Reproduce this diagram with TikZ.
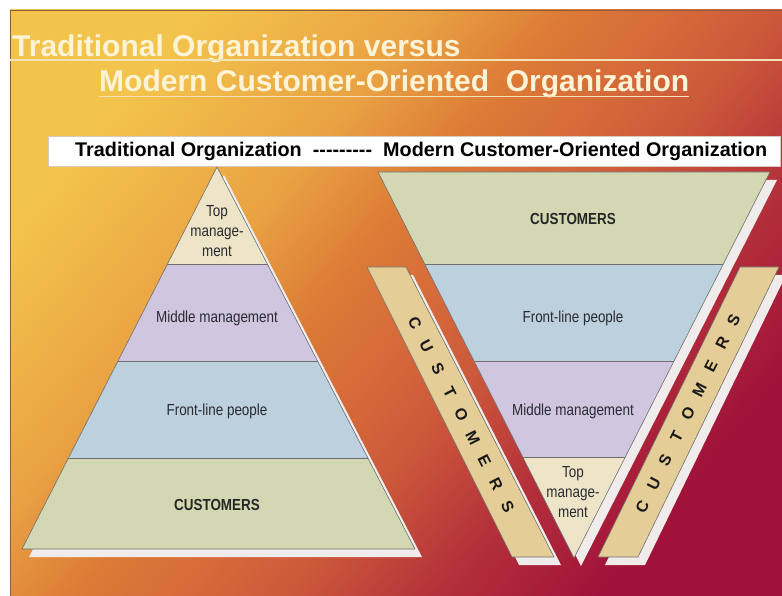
\documentclass[tikz,border=0pt]{standalone}
\usepackage{fontspec}
\newfontfamily\basefont{Liberation Sans}
\newfontfamily\condfont[FakeStretch=0.84]{Liberation Sans}
\usetikzlibrary{calc}

% palette
\definecolor{bgA}{HTML}{F3C44C}
\definecolor{bgB}{HTML}{E9A243}
\definecolor{bgC}{HTML}{DC7A36}
\definecolor{bgD}{HTML}{D66A3A}
\definecolor{bgE}{HTML}{CB573A}
\definecolor{bgF}{HTML}{B4303A}
\definecolor{bgG}{HTML}{A0123A}
\definecolor{titlec}{HTML}{FDF3D6}
\definecolor{ulinec}{HTML}{F3E2B8}
\definecolor{panelline}{HTML}{8C5A3C}
\definecolor{boxedge}{HTML}{D8C8C0}
\definecolor{topc}{HTML}{EEE5C8}
\definecolor{midc}{HTML}{D0C6E0}
\definecolor{frontc}{HTML}{BCD0DD}
\definecolor{custc}{HTML}{D3D8B3}
\definecolor{barc}{HTML}{E5CD97}
\definecolor{shadowc}{HTML}{F0ECEC}
\definecolor{edgegray}{HTML}{6E6E6E}
\definecolor{labtext}{HTML}{2A2A32}

\pgfdeclarehorizontalshading{panelshade}{100bp}{%
  color(0bp)=(bgA); color(25bp)=(bgA); color(38bp)=(bgB); color(46bp)=(bgC);
  color(52bp)=(bgD); color(58bp)=(bgE); color(66bp)=(bgF); color(75bp)=(bgG);
  color(100bp)=(bgG)}

\begin{document}
\begin{tikzpicture}[x=1pt,y=1pt,
  title/.style={anchor=base west, inner sep=0pt, text=titlec,
    font=\basefont\bfseries\fontsize{30}{36}\selectfont},
  uline/.style={draw=ulinec, line width=1.8pt},
  divider/.style={draw=edgegray, line width=0.6pt},
  outline/.style={draw=edgegray, line width=0.6pt, line join=round},
  lab/.style={inner sep=0pt, text=labtext, align=center,
    font=\condfont\fontsize{16}{20}\selectfont},
  labbold/.style={inner sep=0pt, text=black!85, align=center,
    font=\condfont\bfseries\fontsize{16}{20}\selectfont},
  barletter/.style={inner sep=0pt, text=black!90,
    font=\basefont\bfseries\fontsize{16}{16}\selectfont},
]
\clip (0,0) rectangle (782,-596);
\fill[white] (0,0) rectangle (782,-596);

% shaded panel
\shade[shading=panelshade, shading angle=-40] (10,-10) rectangle (782,-596);
\draw[panelline, line width=0.8pt] (782,-10) -- (10,-10) -- (10,-596);

% headings
\node[title] (t1) at (12,-57) {Traditional Organization versus};
\node[title] (t2) at (99,-92) {Modern Customer-Oriented\ \ Organization};
\coordinate (u1a) at (10,-60);
\coordinate (u1b) at (782,-60);
\draw[uline] (u1a) -- (u1b);
\draw[uline] ([yshift=-4.5pt]t2.base west) -- ([yshift=-4.5pt]t2.base east);

% caption strip
\node[fill=white, draw=boxedge, line width=0.5pt, minimum width=732pt,
  minimum height=30pt, inner sep=0pt, anchor=north west] (box) at (48,-136) {};
\node[anchor=base west, inner sep=0pt,
  font=\basefont\bfseries\fontsize{19.8}{24}\selectfont] (boxtext) at (75,-157)
  {Traditional Organization\ \ ---------\ \ Modern Customer-Oriented Organization};

% ---------- traditional pyramid ----------
\fill[shadowc] (224,-175) -- (29,-557) -- (422,-557) -- cycle;
\begin{scope}
  \clip (217,-167) -- (22,-549) -- (415,-549) -- cycle;
  \fill[topc]   (0,-150) rectangle (450,-264);
  \fill[midc]   (0,-264) rectangle (450,-361);
  \fill[frontc] (0,-361) rectangle (450,-458);
  \fill[custc]  (0,-458) rectangle (450,-560);
  \draw[divider] (0,-264) -- (450,-264);
  \draw[divider] (0,-361) -- (450,-361);
  \draw[divider] (0,-458) -- (450,-458);
\end{scope}
\draw[outline] (217,-167) -- (22,-549) -- (415,-549) -- cycle;

\node[lab] (lTop) at (217,-231) {Top\\manage-\\ment};
\node[lab, anchor=base] (lMid) at (217,-322.5) {Middle management};
\node[lab, anchor=base] (lFront) at (217,-415.5) {Front-line people};
\node[labbold, anchor=base] (lCust) at (217,-510.5) {CUSTOMERS};

% ---------- customer-oriented (inverted) pyramid ----------
\fill[shadowc] (385,-180) -- (777,-180) -- (581,-566) -- cycle;
\begin{scope}
  \clip (378,-172) -- (770,-172) -- (574,-558) -- cycle;
  \fill[custc]  (350,-160) rectangle (800,-264);
  \fill[frontc] (350,-264) rectangle (800,-361);
  \fill[midc]   (350,-361) rectangle (800,-457);
  \fill[topc]   (350,-457) rectangle (800,-570);
  \draw[divider] (350,-264) -- (800,-264);
  \draw[divider] (350,-361) -- (800,-361);
  \draw[divider] (350,-457) -- (800,-457);
\end{scope}
\draw[outline] (378,-172) -- (770,-172) -- (574,-558) -- cycle;

\node[labbold, anchor=base] (rCust) at (573,-224.5) {CUSTOMERS};
\node[lab, anchor=base] (rFront) at (573,-322.5) {Front-line people};
\node[lab, anchor=base] (rMid) at (573,-415.5) {Middle management};
\node[lab] (rTop) at (573,-492) {Top\\manage-\\ment};

% side bars
\fill[shadowc] (374,-275) -- (413,-275) -- (561,-565) -- (519,-565) -- cycle;
\fill[barc] (367,-267) -- (406,-267) -- (554,-557) -- (512,-557) -- cycle;
\draw[outline] (367,-267) -- (406,-267) -- (554,-557) -- (512,-557) -- cycle;

\fill[shadowc] (747,-275) -- (786,-275) -- (645,-565) -- (605,-565) -- cycle;
\fill[barc] (740,-267) -- (779,-267) -- (638,-557) -- (598,-557) -- cycle;
\draw[outline] (740,-267) -- (779,-267) -- (638,-557) -- (598,-557) -- cycle;

\foreach \ch [count=\i from 0] in {C,U,S,T,O,M,E,R,S}
  \node[barletter, rotate=-63] (lb\i) at ({386.5+(56+23*\i)*0.505}, {-(323+23*\i)}) {\ch};
\foreach \ch [count=\i from 0] in {C,U,S,T,O,M,E,R,S}
  \node[barletter, rotate=63] (rb\i) at ({759.5-(240-23.4*\i)*0.488}, {-(507-23.4*\i)}) {\ch};
\end{tikzpicture}
\end{document}
